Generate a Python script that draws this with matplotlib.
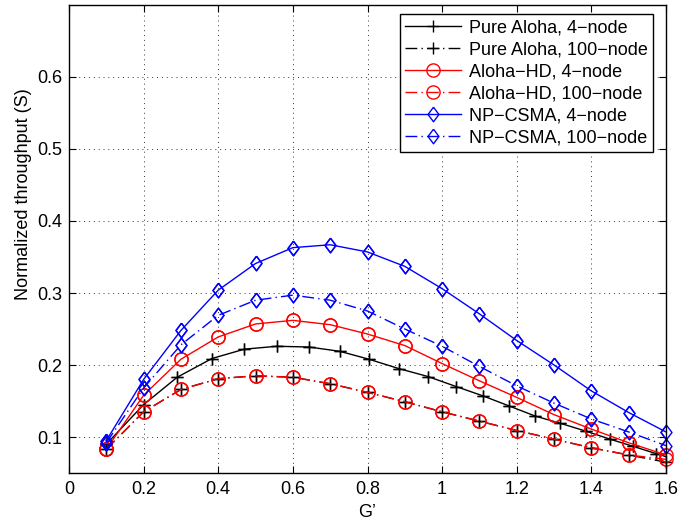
import numpy as np
import matplotlib
matplotlib.use('Agg')
import matplotlib.pyplot as plt

plt.rcParams['font.family'] = ['Liberation Sans', 'DejaVu Sans']

# --- データ -------------------------------------------------------------
g_grid = [0.1, 0.2, 0.3, 0.4, 0.5, 0.6, 0.7, 0.8, 0.9, 1.0,
          1.1, 1.2, 1.3, 1.4, 1.5, 1.6]
g_grid_ext = g_grid + [1.7]

# Pure Aloha, 4-node (不等間隔)
aloha4_x = [0.1, 0.2, 0.29, 0.383, 0.47, 0.557, 0.643, 0.726, 0.804, 0.884,
            0.962, 1.038, 1.11, 1.18, 1.25, 1.317, 1.386, 1.45, 1.512, 1.573, 1.63]
aloha4_y = [0.090, 0.145, 0.183, 0.209, 0.222, 0.226, 0.225, 0.219, 0.208, 0.195,
            0.184, 0.170, 0.157, 0.143, 0.129, 0.119, 0.108, 0.097, 0.087, 0.077, 0.068]

aloha100_y = [0.083, 0.135, 0.166, 0.181, 0.185, 0.183, 0.174, 0.162, 0.149, 0.135,
              0.122, 0.109, 0.097, 0.085, 0.075, 0.065]

hd4_y = [0.083, 0.158, 0.208, 0.239, 0.257, 0.262, 0.256, 0.243, 0.227, 0.202,
         0.178, 0.155, 0.131, 0.111, 0.092, 0.075]
hd100_y = [0.083, 0.135, 0.166, 0.181, 0.185, 0.183, 0.174, 0.162, 0.149, 0.135,
           0.122, 0.109, 0.097, 0.085, 0.075, 0.069]

csma4_y = [0.095, 0.180, 0.248, 0.304, 0.341, 0.363, 0.367, 0.357, 0.337, 0.306,
           0.271, 0.234, 0.200, 0.164, 0.134, 0.107, 0.082]
csma100_y = [0.092, 0.168, 0.228, 0.269, 0.290, 0.297, 0.290, 0.275, 0.250, 0.226,
             0.198, 0.171, 0.147, 0.125, 0.107, 0.088]

labels = ['Pure Aloha, 4\u2212node', 'Pure Aloha, 100\u2212node',
          'Aloha\u2212HD, 4\u2212node', 'Aloha\u2212HD, 100\u2212node',
          'NP\u2212CSMA, 4\u2212node', 'NP\u2212CSMA, 100\u2212node']

x_ticks = [0, 0.2, 0.4, 0.6, 0.8, 1.0, 1.2, 1.4, 1.6]
x_ticklabels = ['0', '0.2', '0.4', '0.6', '0.8', '1', '1.2', '1.4', '1.6']
y_ticks = [0.1, 0.2, 0.3, 0.4, 0.5, 0.6]
y_ticklabels = ['0.1', '0.2', '0.3', '0.4', '0.5', '0.6']

# MATLAB 風の縦長ダイヤ
diamond = [(0, 1), (0.75, 0), (0, -1), (-0.75, 0), (0, 1)]
dashdot = (8.5, 3, 1, 3)
XMAX = 1.6

fig = plt.figure(figsize=(6.79, 5.23), dpi=100)
ax = fig.add_axes([69 / 679, 50 / 523, 597 / 679, 468 / 523])

series = [
    (aloha4_x, aloha4_y, 'k', '-', '+', 8),
    (g_grid, aloha100_y, 'k', 'dd', '+', 8),
    (g_grid, hd4_y, 'r', '-', 'o', 9.5),
    (g_grid, hd100_y, 'r', 'dd', 'o', 9.5),
    (g_grid_ext, csma4_y, 'b', '-', diamond, 10.5),
    (g_grid, csma100_y, 'b', 'dd', diamond, 10.5),
]

for (x, y, c, ls, mk, ms), lab in zip(series, labels):
    kw = dict(color=c, lw=1.0, marker=mk, ms=ms, mfc='none', mec=c, mew=1.0)
    if ls == 'dd':
        line, = ax.plot(x, y, '-', label=lab, **kw)
        line.set_dashes(dashdot)
    else:
        line, = ax.plot(x, y, ls, label=lab, **kw)
    # 端のマーカーは切らない
    xs = np.array(x)
    ys = np.array(y)
    m = xs <= XMAX + 1e-9
    ax.plot(xs[m], ys[m], linestyle='none', marker=mk, ms=ms, mfc='none',
            mec=c, mew=1.0, clip_on=False)

ax.set_xlim(0, 1.6)
ax.set_ylim(0.05, 0.7)
ax.set_xticks(x_ticks)
ax.set_xticklabels(x_ticklabels)
ax.set_yticks(y_ticks)
ax.set_yticklabels(y_ticklabels)
ax.tick_params(direction='in', top=True, right=True, length=5, width=0.8,
               labelsize=13, pad=5)
ax.tick_params(axis='x', pad=6)
for sp in ax.spines.values():
    sp.set_linewidth(1.0)

ax.grid(True, linestyle=(0, (1, 4)), color='k', lw=0.7, alpha=0.8)

ax.set_xlabel('G\u2019', fontsize=13, labelpad=4)
ax.set_ylabel('Normalized throughput (S)', fontsize=13)
ax.yaxis.set_label_coords(-0.062, 0.596)

leg = ax.legend(loc='upper right', bbox_to_anchor=(0.978, 0.981), fontsize=13,
                frameon=True, fancybox=False, edgecolor='k', framealpha=1,
                handlelength=3.1, handletextpad=0.4, labelspacing=0.28,
                borderpad=0.3, borderaxespad=0)
leg.get_frame().set_linewidth(1.0)

fig.savefig('out.png', dpi=100)
